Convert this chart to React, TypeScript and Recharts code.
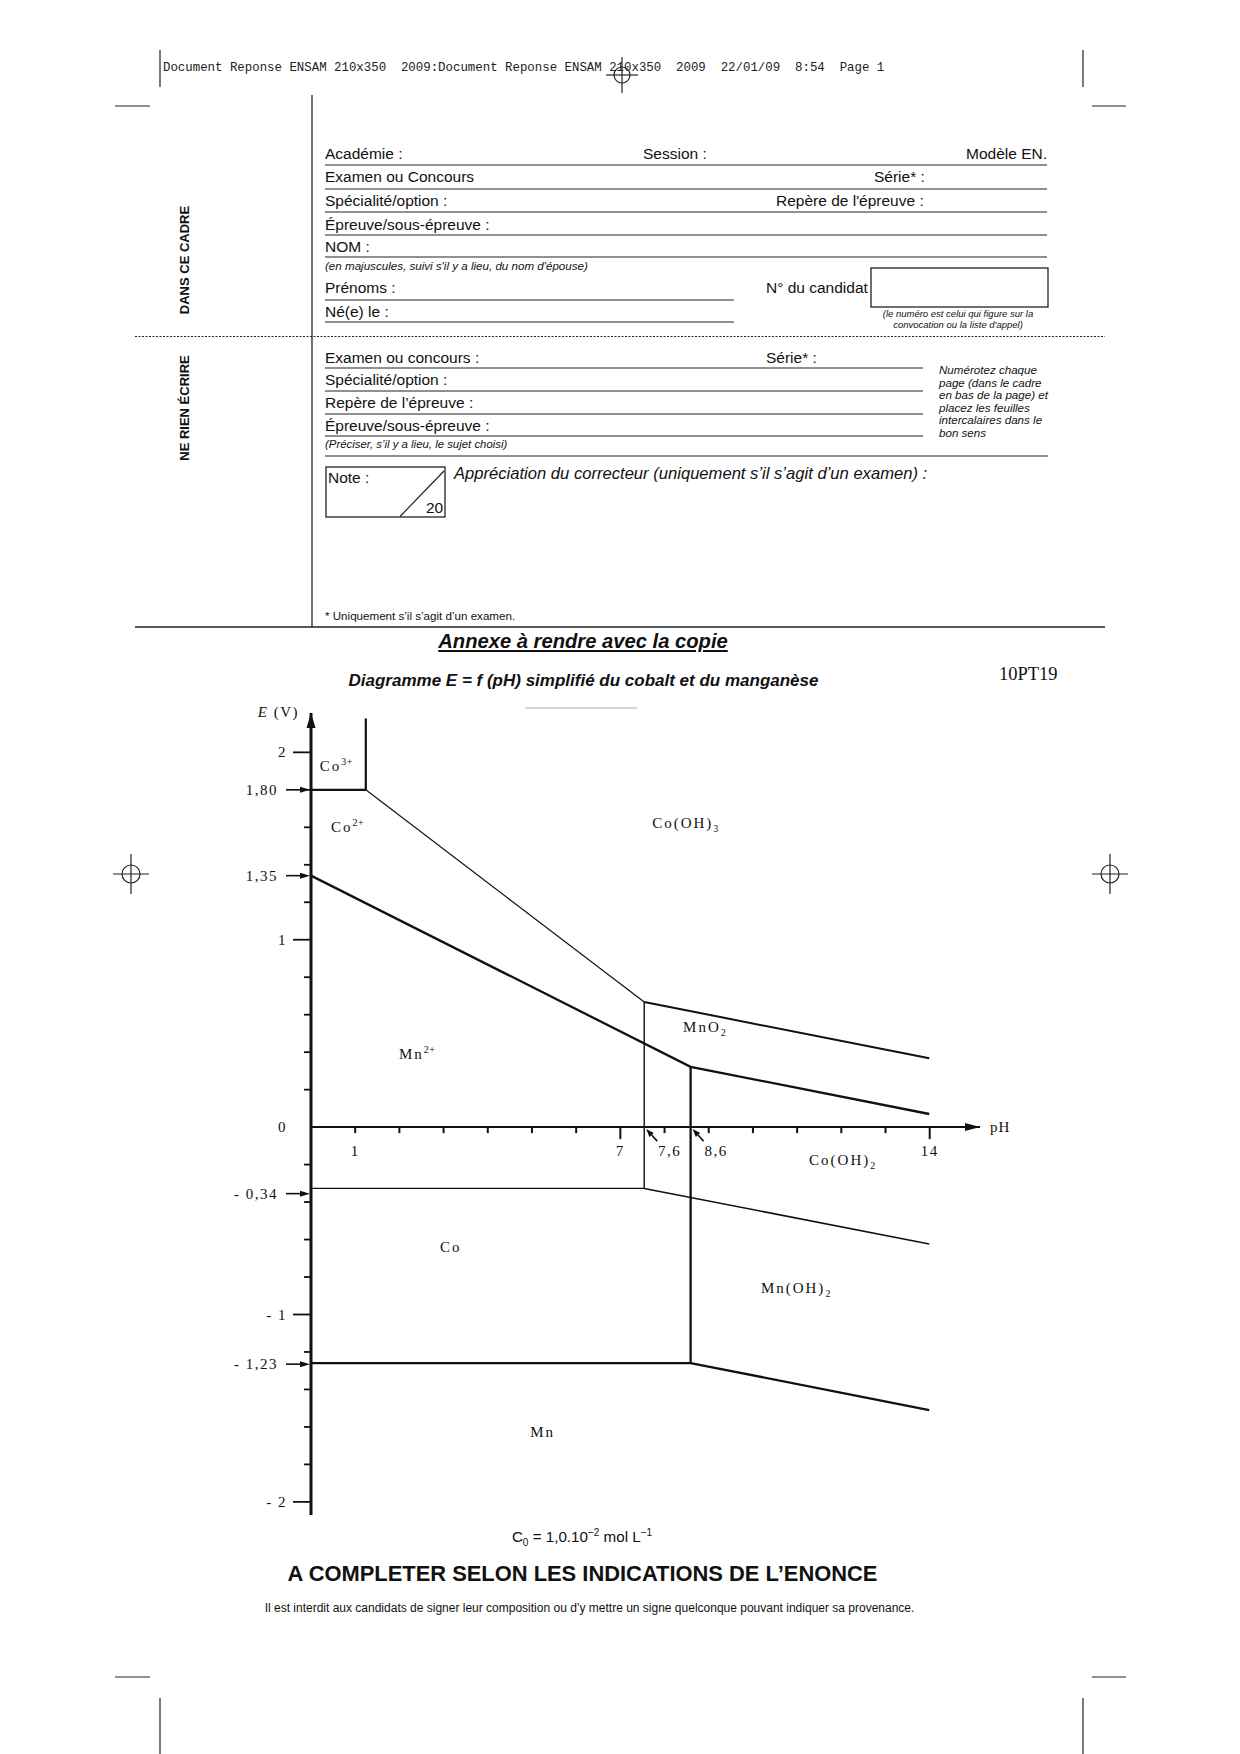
import React from 'react';
import { ComposedChart, Line, XAxis, YAxis, Scatter, ReferenceLine, ReferenceDot } from 'recharts';

// Boundaries of the diagram: x = pH, y = E (V)
const CO3_CO2 = [{ x: 0, y: 1.8 }, { x: 1.24, y: 1.8 }, { x: 1.24, y: 2.18 }];
const CO2_COOH3 = [{ x: 1.24, y: 1.8 }, { x: 7.54, y: 0.668 }];
const COOH3_COOH2 = [{ x: 7.54, y: 0.668 }, { x: 13.99, y: 0.367 }];
const CO_PH76 = [{ x: 7.54, y: 0.668 }, { x: 7.54, y: -0.327 }];
const CO_CO2 = [{ x: 0, y: -0.327 }, { x: 7.54, y: -0.327 }];
const CO_COOH2 = [{ x: 7.54, y: -0.327 }, { x: 13.99, y: -0.624 }];
const MN2_MNO2 = [{ x: 0, y: 1.342 }, { x: 8.59, y: 0.322 }, { x: 13.99, y: 0.07 }];
const MN_PH86 = [{ x: 8.59, y: 0.322 }, { x: 8.59, y: -1.259 }];
const MN_MNOH2 = [{ x: 0, y: -1.259 }, { x: 8.59, y: -1.259 }, { x: 13.99, y: -1.51 }];

// axes
const E_TICKS = [2, 1.8, 1.6, 1.4, 1.2, 1, 0.8, 0.6, 0.4, 0.2, 0, -0.2, -0.4, -0.6, -0.8, -1, -1.2, -1.4, -1.6, -1.8, -2];
const E_MAJOR = [2, 1, 0, -1, -2];
const E_MAJOR_LABELS = ['2', '1', '0', '- 1', '- 2'];
const E_MARKED = [1.8, 1.342, -0.355, -1.265];
const E_MARKED_LABELS = ['1,80', '1,35', '- 0,34', '- 1,23'];
const PH_TICKS = [1, 2, 3, 4, 5, 6, 7, 8, 9, 10, 11, 12, 13, 14];
const PH_TICK_LABELS = ['1', '', '', '', '', '', '7', '', '', '', '', '', '', '14'];
const PH_LONG = [7, 14];
const PH_MARKED = [7.54, 8.59];
const PH_MARKED_LABELS = ['7,6', '8,6'];

// species names
const REGIONS = [
  { x: 0.2, y: 1.927, name: 'Co', sup: '3+' },
  { x: 0.45, y: 1.6, name: 'Co', sup: '2+' },
  { x: 7.72, y: 1.623, name: 'Co(OH)', sub: '3' },
  { x: 8.42, y: 0.534, name: 'MnO', sub: '2' },
  { x: 1.99, y: 0.39, name: 'Mn', sup: '2+' },
  { x: 11.27, y: -0.176, name: 'Co(OH)', sub: '2' },
  { x: 2.92, y: -0.64, name: 'Co' },
  { x: 10.18, y: -0.859, name: 'Mn(OH)', sub: '2' },
  { x: 4.96, y: -1.627, name: 'Mn' },
];

const SERIF = '"Liberation Serif", "DejaVu Serif", serif';
const INK = '#111';

const allETicks = Array.from(new Set([...E_TICKS, ...E_MARKED]));

function ETick(props: any) {
  const { x, y, payload } = props;
  const v: number = payload.value;
  const mi = E_MAJOR.indexOf(v);
  const ki = E_MARKED.indexOf(v);
  const txt = { fontFamily: SERIF, fontSize: 15, letterSpacing: 1.5, fill: INK };
  return (
    <g>
      {mi >= 0 && v !== 0 && <line x1={x - 18} y1={y} x2={x} y2={y} stroke={INK} strokeWidth={1.8} />}
      {mi < 0 && E_TICKS.includes(v) && <line x1={x - 7} y1={y} x2={x} y2={y} stroke={INK} strokeWidth={1.8} />}
      {mi >= 0 && (
        <text x={x - 24} y={y + 5} textAnchor="end" style={txt}>{E_MAJOR_LABELS[mi]}</text>
      )}
      {ki >= 0 && (
        <g>
          <line x1={x - 25} y1={y} x2={x - 8} y2={y} stroke={INK} strokeWidth={1.6} />
          <polygon points={`${x - 1},${y} ${x - 11},${y - 3} ${x - 11},${y + 3}`} fill={INK} />
          <text x={x - 33} y={y + 5} textAnchor="end" style={txt}>{E_MARKED_LABELS[ki]}</text>
        </g>
      )}
    </g>
  );
}

function PhTick(props: any) {
  const { cx, cy, payload } = props;
  const long = PH_LONG.includes(payload.x);
  return (
    <g>
      <line x1={cx} y1={cy} x2={cx} y2={cy + (long ? 12 : 6)} stroke={INK} strokeWidth={2} />
      {payload.label && (
        <text x={cx} y={cy + 29} textAnchor="middle" style={{ fontFamily: SERIF, fontSize: 15, letterSpacing: 1.5, fill: INK }}>
          {payload.label}
        </text>
      )}
    </g>
  );
}

function PhMark(props: any) {
  const { cx, cy, payload } = props;
  const tx = cx + 2, ty = cy + 2;
  const dx = -11, dy = -12;
  const len = Math.hypot(dx, dy);
  const ux = dx / len, uy = dy / len;
  const bx = tx - ux * 8, by = ty - uy * 8;
  const px = -uy * 3, py = ux * 3;
  return (
    <g>
      <line x1={cx + 13} y1={cy + 14} x2={bx} y2={by} stroke={INK} strokeWidth={1.6} />
      <polygon points={`${tx},${ty} ${bx + px},${by + py} ${bx - px},${by - py}`} fill={INK} />
      <text x={cx + 25.5} y={cy + 29} textAnchor="middle" style={{ fontFamily: SERIF, fontSize: 15, letterSpacing: 1.5, fill: INK }}>
        {payload.label}
      </text>
    </g>
  );
}

function RegionLabel(props: any) {
  const { cx, cy, payload } = props;
  return (
    <text x={cx} y={cy + 5} style={{ fontFamily: SERIF, fontSize: 15, letterSpacing: 2, fill: INK }}>
      {payload.name}
      {payload.sup && <tspan fontSize={10} dy={-6} letterSpacing={0.5}>{payload.sup}</tspan>}
      {payload.sub && <tspan fontSize={10} dy={4} letterSpacing={0.5}>{payload.sub}</tspan>}
    </text>
  );
}

type TP = { x: number; y: number; s: number; a?: 'start' | 'middle' | 'end'; st?: React.CSSProperties; children: React.ReactNode };
const T = ({ x, y, s, a = 'start', st, children }: TP) => (
  <div
    style={{
      position: 'absolute', left: x, top: y - s * 0.6, fontSize: s, lineHeight: `${s * 1.2}px`, whiteSpace: 'pre',
      transform: a === 'end' ? 'translateX(-100%)' : a === 'middle' ? 'translateX(-50%)' : undefined, ...st,
    }}
  >
    {children}
  </div>
);

const Cross = ({ x, y, r }: { x: number; y: number; r: number }) => (
  <g stroke="#222" strokeWidth={1.2} fill="none">
    <circle cx={x} cy={y} r={r} />
    <line x1={x - 2 * r} y1={y} x2={x + 2 * r} y2={y} />
    <line x1={x} y1={y - 2 * r - 2} x2={x} y2={y + 2 * r + 2} />
  </g>
);

const it: React.CSSProperties = { fontStyle: 'italic' };
const F = 15.5;

export default function App() {
  return (
    <div style={{ position: 'absolute', left: 0, top: 0, width: 1240, height: 1754, background: '#fff', overflow: 'hidden', fontFamily: '"Liberation Sans", Arial, sans-serif', color: INK }}>
      <svg width={1240} height={1754} style={{ position: 'absolute', left: 0, top: 0 }}>
        <g stroke="#222" strokeWidth={1.2}>
          {/* crop marks */}
          <line x1={115} y1={106} x2={150} y2={106} />
          <line x1={1092} y1={106} x2={1126} y2={106} />
          <line x1={160} y1={50} x2={160} y2={87} />
          <line x1={1083} y1={50} x2={1083} y2={87} />
          <line x1={115} y1={1677} x2={150} y2={1677} />
          <line x1={1092} y1={1677} x2={1126} y2={1677} />
          <line x1={160} y1={1698} x2={160} y2={1754} />
          <line x1={1083} y1={1698} x2={1083} y2={1754} />
          {/* form frame */}
          <line x1={312} y1={95} x2={312} y2={627} strokeWidth={1.3} />
          <line x1={135} y1={336.5} x2={1105} y2={336.5} strokeDasharray="2 1.5" />
          <line x1={135} y1={627} x2={1105} y2={627} strokeWidth={1.3} />
          {[165, 189, 212, 235, 257].map((y) => <line key={y} x1={325} y1={y} x2={1047} y2={y} />)}
          {[300, 322].map((y) => <line key={y} x1={325} y1={y} x2={734} y2={y} />)}
          <rect x={871} y={268} width={177} height={39} fill="none" strokeWidth={1.3} />
          {[368, 391, 414, 436].map((y) => <line key={y} x1={325} y1={y} x2={923} y2={y} />)}
          <line x1={325} y1={456} x2={1048} y2={456} />
          <rect x={326} y={467} width={119} height={50} fill="none" strokeWidth={1.3} />
          <line x1={400} y1={516.5} x2={444} y2={471} />
          <line x1={525} y1={708} x2={637} y2={708} stroke="#999" strokeWidth={0.8} />
        </g>
        <Cross x={622} y={75} r={8} />
        <Cross x={131} y={874} r={9} />
        <Cross x={1110} y={874} r={9} />
      </svg>

      <T x={163} y={68} s={12.4} st={{ fontFamily: '"Liberation Mono", monospace', color: '#222' }}>
        {'Document Reponse ENSAM 210x350  2009:Document Reponse ENSAM 210x350  2009  22/01/09  8:54  Page 1'}
      </T>

      <div style={{ position: 'absolute', left: 184, top: 260, transform: 'translate(-50%,-50%) rotate(-90deg)', fontSize: 13, fontWeight: 700, whiteSpace: 'nowrap' }}>DANS CE CADRE</div>
      <div style={{ position: 'absolute', left: 184, top: 408, transform: 'translate(-50%,-50%) rotate(-90deg)', fontSize: 13, fontWeight: 700, whiteSpace: 'nowrap' }}>NE RIEN ÉCRIRE</div>

      <T x={325} y={154} s={F}>Académie :</T>
      <T x={643} y={154} s={F}>Session :</T>
      <T x={1047} y={154} s={F} a="end">Modèle EN.</T>
      <T x={325} y={177} s={F}>Examen ou Concours</T>
      <T x={874} y={177} s={F}>Série* :</T>
      <T x={325} y={201} s={F}>Spécialité/option :</T>
      <T x={776} y={201} s={F}>Repère de l'épreuve :</T>
      <T x={325} y={225} s={F}>Épreuve/sous-épreuve :</T>
      <T x={325} y={247} s={F}>NOM :</T>
      <T x={325} y={266} s={11.6} st={it}>(en majuscules, suivi s'il y a lieu, du nom d'épouse)</T>
      <T x={325} y={288} s={F}>Prénoms :</T>
      <T x={766} y={288} s={F}>N° du candidat</T>
      <T x={325} y={312} s={F}>Né(e) le :</T>
      <T x={958} y={314} s={9.5} a="middle" st={it}>(le numéro est celui qui figure sur la</T>
      <T x={958} y={325} s={9.5} a="middle" st={it}>convocation ou la liste d'appel)</T>

      <T x={325} y={358} s={F}>Examen ou concours :</T>
      <T x={766} y={358} s={F}>Série* :</T>
      <T x={325} y={380} s={F}>Spécialité/option :</T>
      <T x={325} y={403} s={F}>Repère de l’épreuve :</T>
      <T x={325} y={426} s={F}>Épreuve/sous-épreuve :</T>
      <T x={325} y={445} s={11.4} st={it}>(Préciser, s’il y a lieu, le sujet choisi)</T>
      {['Numérotez chaque', 'page (dans le cadre', 'en bas de la page) et', 'placez les feuilles', 'intercalaires dans le', 'bon sens'].map((l, i) => (
        <T key={l} x={939} y={370 + i * 12.6} s={11.6} st={it}>{l}</T>
      ))}
      <T x={328} y={478} s={F}>Note :</T>
      <T x={426} y={508} s={F}>20</T>
      <T x={454} y={474} s={16.6} st={it}>Appréciation du correcteur (uniquement s’il s’agit d’un examen) :</T>
      <T x={325} y={616} s={11.6}>* Uniquement s’il s’agit d’un examen.</T>

      <T x={583} y={641} s={20.2} a="middle" st={{ fontWeight: 700, fontStyle: 'italic', textDecoration: 'underline' }}>Annexe à rendre avec la copie</T>
      <T x={583.5} y={681} s={17} a="middle" st={{ fontWeight: 700, fontStyle: 'italic' }}>Diagramme E = f (pH) simplifié du cobalt et du manganèse</T>
      <T x={999} y={674} s={18.5} st={{ fontFamily: SERIF }}>10PT19</T>

      <div style={{ position: 'absolute', left: 200, top: 703 }}>
        <ComposedChart width={820} height={830} margin={{ top: 10, right: 24, bottom: 18, left: 0 }}>
          <XAxis type="number" dataKey="x" domain={[0, 15.5]} allowDataOverflow hide />
          <YAxis
            type="number"
            dataKey="y"
            domain={[-2.07, 2.21]}
            allowDataOverflow
            width={111}
            ticks={allETicks}
            interval={0}
            tickSize={0}
            tickMargin={0}
            tickLine={false}
            axisLine={{ stroke: INK, strokeWidth: 3 }}
            tick={(p: any) => <ETick {...p} />}
          />
          <ReferenceLine segment={[{ x: 0, y: 0 }, { x: 15.14, y: 0 }]} stroke={INK} strokeWidth={2} ifOverflow="visible" />
          <ReferenceDot
            x={15.14}
            y={0}
            r={0}
            ifOverflow="visible"
            shape={(p: any) => (
              <g>
                <polygon points={`${p.cx},${p.cy} ${p.cx - 15},${p.cy - 4} ${p.cx - 15},${p.cy + 4}`} fill={INK} />
                <text x={p.cx + 10} y={p.cy + 5} style={{ fontFamily: SERIF, fontSize: 15, letterSpacing: 1, fill: INK }}>pH</text>
              </g>
            )}
          />
          <ReferenceDot
            x={0}
            y={2.21}
            r={0}
            ifOverflow="visible"
            shape={(p: any) => (
              <g>
                <polygon points={`${p.cx},${p.cy} ${p.cx - 4.5},${p.cy + 15} ${p.cx + 4.5},${p.cy + 15}`} fill={INK} />
                <text x={p.cx - 12} y={p.cy + 4} textAnchor="end" style={{ fontFamily: SERIF, fontSize: 15, letterSpacing: 1.5, fill: INK }}>
                  <tspan fontStyle="italic">E</tspan> (V)
                </text>
              </g>
            )}
          />

          <Line data={CO3_CO2} dataKey="y" type="linear" stroke={INK} strokeWidth={2.2} dot={false} activeDot={false} isAnimationActive={false} />
          <Line data={CO2_COOH3} dataKey="y" type="linear" stroke={INK} strokeWidth={1.2} dot={false} activeDot={false} isAnimationActive={false} />
          <Line data={COOH3_COOH2} dataKey="y" type="linear" stroke={INK} strokeWidth={2} dot={false} activeDot={false} isAnimationActive={false} />
          <Line data={CO_PH76} dataKey="y" type="linear" stroke={INK} strokeWidth={1.4} dot={false} activeDot={false} isAnimationActive={false} />
          <Line data={CO_CO2} dataKey="y" type="linear" stroke={INK} strokeWidth={1.3} dot={false} activeDot={false} isAnimationActive={false} />
          <Line data={CO_COOH2} dataKey="y" type="linear" stroke={INK} strokeWidth={1.5} dot={false} activeDot={false} isAnimationActive={false} />
          <Line data={MN2_MNO2} dataKey="y" type="linear" stroke={INK} strokeWidth={2.3} dot={false} activeDot={false} isAnimationActive={false} />
          <Line data={MN_PH86} dataKey="y" type="linear" stroke={INK} strokeWidth={2.3} dot={false} activeDot={false} isAnimationActive={false} />
          <Line data={MN_MNOH2} dataKey="y" type="linear" stroke={INK} strokeWidth={2.3} dot={false} activeDot={false} isAnimationActive={false} />

          <Scatter
            data={PH_TICKS.map((p, i) => ({ x: p, y: 0, label: PH_TICK_LABELS[i] }))}
            dataKey="y"
            isAnimationActive={false}
            shape={(p: any) => <PhTick {...p} />}
          />
          <Scatter
            data={PH_MARKED.map((p, i) => ({ x: p, y: 0, label: PH_MARKED_LABELS[i] }))}
            dataKey="y"
            isAnimationActive={false}
            shape={(p: any) => <PhMark {...p} />}
          />
          <Scatter data={REGIONS} dataKey="y" isAnimationActive={false} shape={(p: any) => <RegionLabel {...p} />} />
        </ComposedChart>
      </div>

      <T x={582} y={1533} s={15.2} a="middle">
        C<sub style={{ fontSize: 10 }}>0</sub> = 1,0.10<sup style={{ fontSize: 10 }}>−2</sup> mol L<sup style={{ fontSize: 10 }}>−1</sup>
      </T>
      <T x={582.5} y={1574} s={21.9} a="middle" st={{ fontWeight: 700 }}>A COMPLETER SELON LES INDICATIONS DE L’ENONCE</T>
      <T x={589.5} y={1608} s={12} a="middle">Il est interdit aux candidats de signer leur composition ou d’y mettre un signe quelconque pouvant indiquer sa provenance.</T>
    </div>
  );
}
